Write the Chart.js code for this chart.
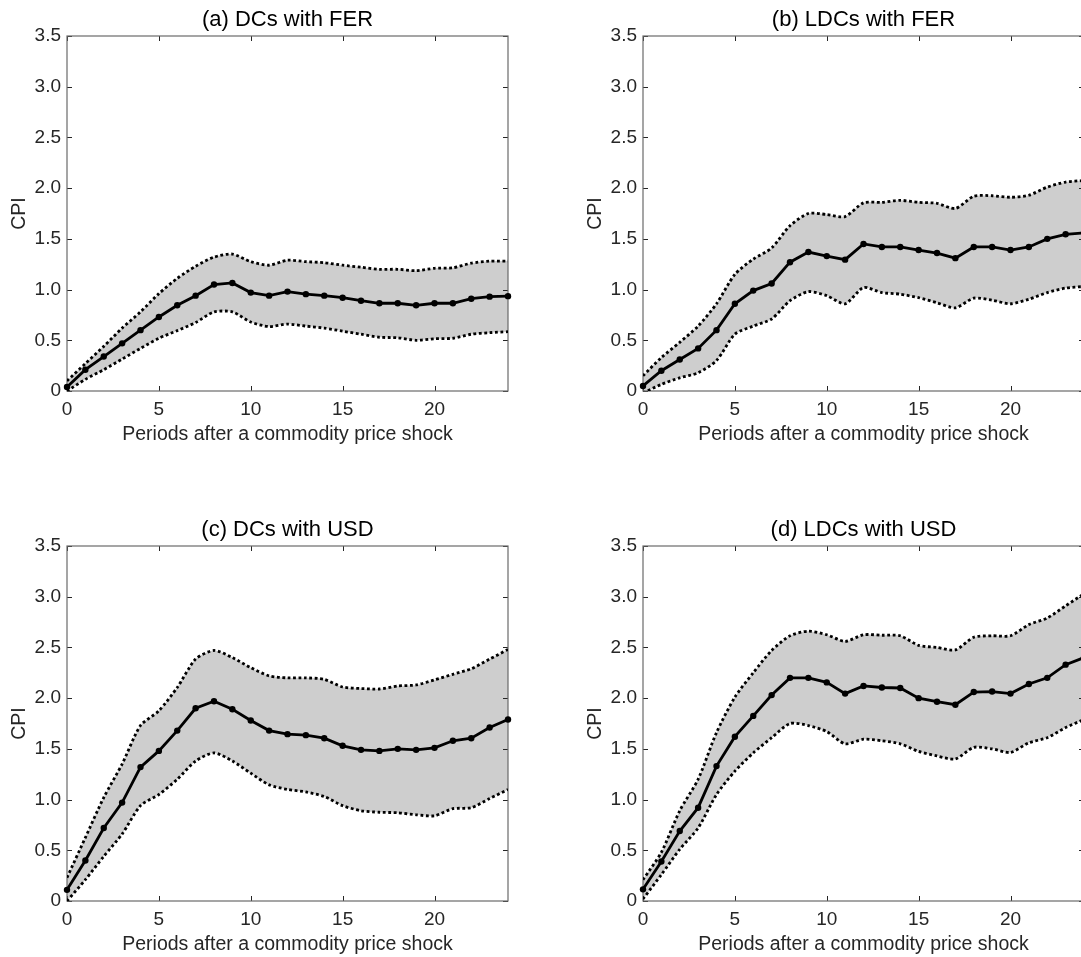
<!DOCTYPE html>
<html lang="en">
<head>
<meta charset="UTF-8" />
<title>CPI after a commodity price shock</title>
<script src="https://cdn.jsdelivr.net/npm/chart.js@4"></script>
<style>
  html, body { margin: 0; padding: 0; background: #fff; overflow: hidden; }
  #fig { position: relative; width: 1081px; height: 957px; overflow: hidden; }
  #fig canvas { position: absolute; }
</style>
</head>
<body>
<div id="fig">
  <canvas id="cA" width="540" height="450" style="left:0px;top:0px"></canvas>
  <canvas id="cB" width="540" height="450" style="left:576px;top:0px"></canvas>
  <canvas id="cC" width="540" height="450" style="left:0px;top:510px"></canvas>
  <canvas id="cD" width="540" height="450" style="left:576px;top:510px"></canvas>
</div>
<script>
// periods after the shock
var periods = [0,1,2,3,4,5,6,7,8,9,10,11,12,13,14,15,16,17,18,19,20,21,22,23,24];
var xTicks = [0,5,10,15,20];
var yTicks = [0,0.5,1.0,1.5,2.0,2.5,3.0,3.5];

// (a) DCs with FER
var dcFerMid = [0.04,0.21,0.34,0.47,0.60,0.73,0.845,0.94,1.05,1.065,0.97,0.94,0.98,0.955,0.94,0.92,0.89,0.865,0.865,0.845,0.865,0.865,0.91,0.93,0.935];
var dcFerUp  = [0.10,0.27,0.44,0.62,0.78,0.96,1.11,1.23,1.32,1.35,1.275,1.24,1.29,1.275,1.265,1.24,1.22,1.20,1.20,1.186,1.21,1.215,1.26,1.28,1.28];
var dcFerLo  = [0.0,0.115,0.21,0.315,0.42,0.52,0.595,0.675,0.78,0.78,0.68,0.635,0.66,0.64,0.62,0.59,0.56,0.53,0.525,0.50,0.515,0.52,0.56,0.575,0.585];

// (b) LDCs with FER
var ldcFerMid = [0.05,0.20,0.31,0.42,0.60,0.86,0.99,1.06,1.27,1.37,1.33,1.295,1.45,1.42,1.42,1.39,1.36,1.31,1.42,1.42,1.39,1.42,1.50,1.545,1.56];
var ldcFerUp  = [0.15,0.33,0.48,0.64,0.86,1.15,1.30,1.41,1.63,1.75,1.74,1.72,1.855,1.86,1.88,1.86,1.85,1.80,1.92,1.925,1.91,1.93,2.01,2.06,2.075];
var ldcFerLo  = [-0.02,0.065,0.13,0.18,0.30,0.56,0.64,0.71,0.89,0.98,0.94,0.86,1.02,0.97,0.955,0.92,0.87,0.82,0.915,0.895,0.86,0.905,0.97,1.015,1.03];

// (c) DCs with USD
var dcUsdMid = [0.11,0.40,0.72,0.97,1.32,1.48,1.68,1.90,1.97,1.89,1.78,1.68,1.645,1.635,1.605,1.53,1.49,1.48,1.50,1.49,1.51,1.58,1.605,1.71,1.79];
var dcUsdUp  = [0.23,0.625,1.02,1.35,1.73,1.875,2.105,2.385,2.47,2.40,2.30,2.22,2.20,2.20,2.185,2.11,2.095,2.09,2.12,2.13,2.18,2.235,2.29,2.385,2.48];
var dcUsdLo  = [0.0,0.21,0.44,0.66,0.94,1.05,1.20,1.38,1.46,1.38,1.26,1.145,1.10,1.075,1.03,0.94,0.89,0.875,0.87,0.85,0.84,0.91,0.92,1.01,1.10];

// (d) LDCs with USD
var ldcUsdMid = [0.115,0.39,0.69,0.92,1.33,1.62,1.825,2.03,2.20,2.20,2.155,2.045,2.12,2.105,2.10,2.00,1.965,1.935,2.06,2.065,2.045,2.14,2.20,2.33,2.40];
var ldcUsdUp  = [0.21,0.48,0.89,1.20,1.66,2.01,2.25,2.47,2.615,2.66,2.625,2.56,2.625,2.62,2.615,2.52,2.50,2.475,2.60,2.615,2.615,2.725,2.79,2.91,3.03];
var ldcUsdLo  = [0.02,0.26,0.51,0.72,1.05,1.28,1.46,1.61,1.75,1.73,1.67,1.55,1.595,1.58,1.55,1.475,1.43,1.40,1.515,1.50,1.465,1.56,1.61,1.71,1.79];

Chart.defaults.font.family = '"Liberation Sans", Arial, Helvetica, sans-serif';
Chart.defaults.color = '#262626';

function pts(vals) {
  return periods.map(function (p, i) { return { x: p, y: vals[i] }; });
}

// box round the plot with inward ticks on all four sides, plus the panel title
var boxPlugin = {
  id: 'box',
  beforeDatasetsDraw: function (chart) {
    var ctx = chart.ctx, a = chart.chartArea;
    var xs = chart.scales.x, ys = chart.scales.y;
    ctx.save();
    ctx.strokeStyle = '#262626';
    ctx.lineWidth = 1;
    ctx.beginPath();
    xs.ticks.forEach(function (t) {
      var px = Math.round(xs.getPixelForValue(t.value)) + 0.5;
      ctx.moveTo(px, a.bottom); ctx.lineTo(px, a.bottom - 5);
      ctx.moveTo(px, a.top); ctx.lineTo(px, a.top + 5);
    });
    ys.ticks.forEach(function (t) {
      var py = Math.round(ys.getPixelForValue(t.value)) + 0.5;
      ctx.moveTo(a.left, py); ctx.lineTo(a.left + 5, py);
      ctx.moveTo(a.right, py); ctx.lineTo(a.right - 5, py);
    });
    ctx.stroke();
    ctx.strokeStyle = '#6a6a6a';
    ctx.lineWidth = 1.2;
    ctx.strokeRect(a.left, a.top, a.right - a.left, a.bottom - a.top);
    ctx.restore();
  },
  afterDraw: function (chart) {
    var ctx = chart.ctx, a = chart.chartArea;
    ctx.save();
    ctx.fillStyle = '#000';
    ctx.font = '22px "Liberation Sans", Arial, Helvetica, sans-serif';
    ctx.textAlign = 'center';
    ctx.textBaseline = 'alphabetic';
    ctx.fillText(chart.options.plugins.panelTitle, (a.left + a.right) / 2, a.top - 10);
    ctx.restore();
  }
};

function makePanel(id, title, mid, up, lo) {
  new Chart(document.getElementById(id), {
    type: 'line',
    data: {
      datasets: [
        {
          label: 'CPI', data: pts(mid), borderColor: '#000', borderWidth: 2.8,
          pointRadius: 3.2, pointBackgroundColor: '#000', pointBorderColor: '#000',
          pointBorderWidth: 0, fill: false, clip: false, tension: 0
        },
        {
          label: 'upper', data: pts(up), borderColor: '#000', borderWidth: 2.8,
          borderDash: [2.8, 2.6], borderCapStyle: 'butt', pointRadius: 0,
          fill: '+1', backgroundColor: '#cecece', tension: 0.25
        },
        {
          label: 'lower', data: pts(lo), borderColor: '#000', borderWidth: 2.8,
          borderDash: [2.8, 2.6], borderCapStyle: 'butt', pointRadius: 0,
          fill: false, tension: 0.25
        }
      ]
    },
    options: {
      responsive: false,
      animation: false,
      layout: { padding: { top: 36, right: 32, left: 0, bottom: 0 } },
      plugins: {
        legend: { display: false },
        tooltip: { enabled: false },
        filler: { drawTime: 'beforeDatasetsDraw' },
        panelTitle: title
      },
      scales: {
        x: {
          type: 'linear', min: 0, max: 24,
          grid: { display: false, drawTicks: false },
          border: { display: false },
          afterBuildTicks: function (s) { s.ticks = xTicks.map(function (v) { return { value: v }; }); },
          afterFit: function (s) { s.height = 59; },
          ticks: { font: { size: 19 }, padding: 7, color: '#262626' },
          title: {
            display: true, text: 'Periods after a commodity price shock',
            font: { size: 19.5 }, color: '#262626', padding: { top: 0, bottom: 4 }
          }
        },
        y: {
          min: 0, max: 3.5,
          grid: { display: false, drawTicks: false },
          border: { display: false },
          afterBuildTicks: function (s) { s.ticks = yTicks.map(function (v) { return { value: v }; }); },
          afterFit: function (s) { s.width = 67; },
          ticks: {
            font: { size: 19 }, padding: 6, color: '#262626',
            callback: function (v) { return v === 0 ? '0' : v.toFixed(1); }
          },
          title: {
            display: true, text: 'CPI', font: { size: 19.5 }, color: '#262626',
            padding: { top: 8, bottom: 0 }
          }
        }
      }
    },
    plugins: [boxPlugin]
  });
}

makePanel('cA', '(a) DCs with FER', dcFerMid, dcFerUp, dcFerLo);
makePanel('cB', '(b) LDCs with FER', ldcFerMid, ldcFerUp, ldcFerLo);
makePanel('cC', '(c) DCs with USD', dcUsdMid, dcUsdUp, dcUsdLo);
makePanel('cD', '(d) LDCs with USD', ldcUsdMid, ldcUsdUp, ldcUsdLo);
</script>
</body>
</html>
